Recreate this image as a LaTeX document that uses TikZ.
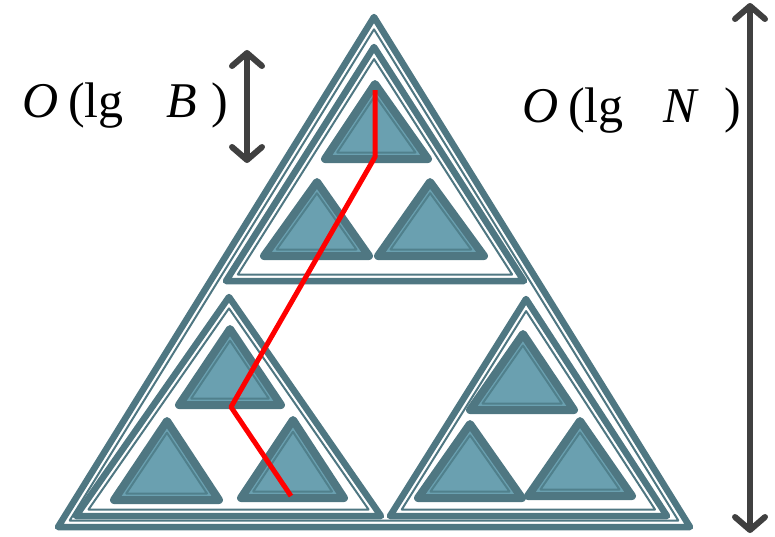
\documentclass[tikz,border=0pt]{standalone}
\usepackage{fontspec}
\setmainfont{Liberation Serif}
\usetikzlibrary{arrows.meta}
\definecolor{tdark}{HTML}{4F7782}
\definecolor{tfill}{HTML}{6AA0B0}
\definecolor{tinner}{HTML}{50808C}
\definecolor{agray}{HTML}{404040}
% #1 outer style, #2..#7 corners, #8 inset, #9 inner style
\newcommand\tri[9]{%
  \pgfmathsetmacro\ta{veclen(((#4)-(#6))/100,((#5)-(#7))/100)}%
  \pgfmathsetmacro\tb{veclen(((#2)-(#6))/100,((#3)-(#7))/100)}%
  \pgfmathsetmacro\tc{veclen(((#2)-(#4))/100,((#3)-(#5))/100)}%
  \pgfmathsetmacro\ts{(\ta+\tb+\tc)/2}%
  \pgfmathsetmacro\tr{100*sqrt((\ts-\ta)*(\ts-\tb)*(\ts-\tc)/\ts)}%
  \pgfmathsetmacro\ix{(\ta*(#2)+\tb*(#4)+\tc*(#6))/(2*\ts)}%
  \pgfmathsetmacro\iy{(\ta*(#3)+\tb*(#5)+\tc*(#7))/(2*\ts)}%
  \pgfmathsetmacro\tk{1-(#8)/\tr}%
  \draw[#1] (#2,#3) -- (#4,#5) -- (#6,#7) -- cycle;
  \draw[#9] ({\ix+((#2)-\ix)*\tk},{\iy+((#3)-\iy)*\tk})
         -- ({\ix+((#4)-\ix)*\tk},{\iy+((#5)-\iy)*\tk})
         -- ({\ix+((#6)-\ix)*\tk},{\iy+((#7)-\iy)*\tk}) -- cycle;
}
\begin{document}
\begin{tikzpicture}[x=1pt,y=-1pt,
  contour/.style={draw=tdark,line width=6.5pt,line join=round},
  contourin/.style={draw=tdark,line width=2pt,line join=round},
  leaf/.style={draw=tdark,fill=tfill,line width=8pt,line join=round},
  leafin/.style={draw=tinner,line width=2pt,line join=round},
  pathline/.style={draw=red,line width=5pt,line join=round},
  dim/.style={draw=agray,line width=6pt,{Straight Barb[length=13pt,width=30pt,round]}-{Straight Barb[length=13pt,width=30pt,round]}},
  lbl/.style={anchor=base west,inner sep=0pt,font=\fontsize{50}{60}\selectfont}]
\useasboundingbox (0,0) rectangle (775,536);
% root
\tri{contour}{374}{17}{58}{527}{690}{527}{6.5}{contourin}
% level 1
\tri{contour}{374}{47}{226}{281}{524}{281}{6.5}{contourin}
\tri{contour}{229}{297}{76}{516}{381}{516}{6.5}{contourin}
\tri{contour}{526}{299}{390}{516}{667}{516}{6.5}{contourin}
% leaves
\tri{leaf}{375}{84}{325}{159}{428}{159}{6.5}{leafin}
\tri{leaf}{317}{182}{264}{256}{369}{256}{6.5}{leafin}
\tri{leaf}{430}{182}{378}{256}{484}{256}{6.5}{leafin}
\tri{leaf}{230}{329}{179}{405}{281}{405}{6.5}{leafin}
\tri{leaf}{167}{421}{114}{500}{219}{500}{6.5}{leafin}
\tri{leaf}{293}{420}{241}{498}{344}{498}{6.5}{leafin}
\tri{leaf}{523}{334}{470}{410}{574}{410}{6.5}{leafin}
\tri{leaf}{470}{424}{418}{498}{522}{498}{6.5}{leafin}
\tri{leaf}{580}{421}{528}{496}{632}{496}{6.5}{leafin}
% search path
\coordinate (p0) at (375,90);
\coordinate (p1) at (375,157);
\coordinate (p2) at (231,407);
\coordinate (p3) at (291,496);
\draw[pathline] (p0) -- (p1) -- (p2) -- (p3);
% dimension arrows
\coordinate (bt) at (247,50);
\coordinate (bb) at (247,163);
\draw[dim] (bt) -- (bb);
\coordinate (nt) at (750,3);
\coordinate (nb) at (750,533);
\draw[dim] (nt) -- (nb);
% labels
\node[lbl] (lgb) at (22,117) {\textit{O}\hspace{10pt}(lg\hspace{43pt}\textit{B}\hspace{14pt})};
\node[lbl] (lgn) at (522,122) {\textit{O}\hspace{10pt}(lg\hspace{40pt}\textit{N}\hspace{25pt})};
\end{tikzpicture}
\end{document}
